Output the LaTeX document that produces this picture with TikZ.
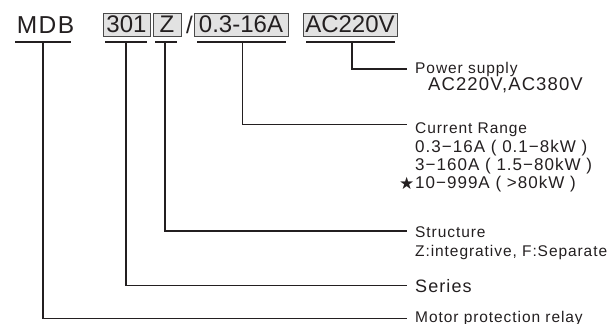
\documentclass[tikz,border=0pt]{standalone}
\usepackage{fontspec}
\setmainfont{Liberation Sans}
\newfontfamily\lblfont[LetterSpace=6]{Liberation Sans}
\newfontfamily\symfont{DejaVu Sans}
\usetikzlibrary{calc}
\definecolor{ink}{HTML}{231F20}
\definecolor{codefill}{HTML}{E2E2E2}
\definecolor{codeline}{HTML}{4A4A4A}

\begin{document}
\begin{tikzpicture}[x=1pt,y=-1pt,
    code/.style={draw=codeline,fill=codefill,line width=0.9pt,inner sep=0pt,minimum height=23pt,text=ink,font=\fontsize{24}{24}\selectfont},
    lbl/.style={inner sep=0pt,anchor=base west,text=ink,font=\lblfont\fontsize{15.5}{18}\selectfont},
    big/.style={lbl,font=\lblfont\fontsize{17}{20}\selectfont},
    lead/.style={draw=ink,line width=1.3pt}]
    \useasboundingbox (0,0) rectangle (611,324);

    % Define the parts of the code
    \node[inner sep=0pt,anchor=base,text=ink,font=\lblfont\fontsize{24.5}{24}\selectfont] (mdb) at (45.5,33) {MDB};
    \node[code,minimum width=47pt] (ser) at (126.5,24.5) {301};
    \node[code,minimum width=28pt] (str) at (167,24.5) {Z};
    \node[inner sep=0pt,text=ink,font=\fontsize{24}{24}\selectfont] (slash) at (189.5,24.5) {/};
    \node[code,minimum width=94pt] (cur) at (241,24.5) {0.3-16A};
    \node[code,minimum width=94pt] (pow) at (350,24.5) {AC220V};

    % Draw the underlines and keep the top of each stem
    \foreach \n/\a/\b/\m in {mdb/15/71/43, ser/105/147/126, str/155/177/165, cur/197/286/242.5, pow/306/395/352}{
        \draw[lead] (\a,42) -- (\b,42);
        \coordinate (\n-u) at (\m,42);
    }

    % Define the ends of the leaders
    \coordinate (pow-e) at (407,69);
    \coordinate (cur-e) at (407,124.5);
    \coordinate (str-e) at (407,231);
    \coordinate (ser-e) at (407,285.5);
    \coordinate (mdb-e) at (407,318.5);

    % Draw the leaders
    \foreach \n in {pow,cur,str,ser,mdb}
        \draw[lead] (\n-u) |- (\n-e);

    % Place the descriptions
    \node[lbl] (powlbl) at (415,73) {Power supply};
    \node[lbl,font=\lblfont\fontsize{18.5}{20}\selectfont] (powval) at (428,90) {AC220V,AC380V};
    \node[lbl] (curlbl) at (415,133.5) {Current Range};
    \node[big] (cur1) at (415,152) {0.3−16A ( 0.1−8kW )};
    \node[big] (cur2) at (415,170) {3−160A ( 1.5−80kW )};
    \node[big] (cur3) at (415,188) {10−999A ( >80kW )};
    \node[inner sep=0pt,anchor=base west,text=ink,font=\symfont\fontsize{17}{17}\selectfont] (star) at (399,189) {★};
    \node[lbl] (strlbl) at (415,237) {Structure};
    \node[lbl] (strval) at (415,256) {Z:integrative, F:Separate};
    \node[lbl,font=\lblfont\fontsize{18}{20}\selectfont] (serlbl) at (415,292) {Series};
    \node[lbl] (mdblbl) at (415,322) {Motor protection relay};

\end{tikzpicture}
\end{document}
